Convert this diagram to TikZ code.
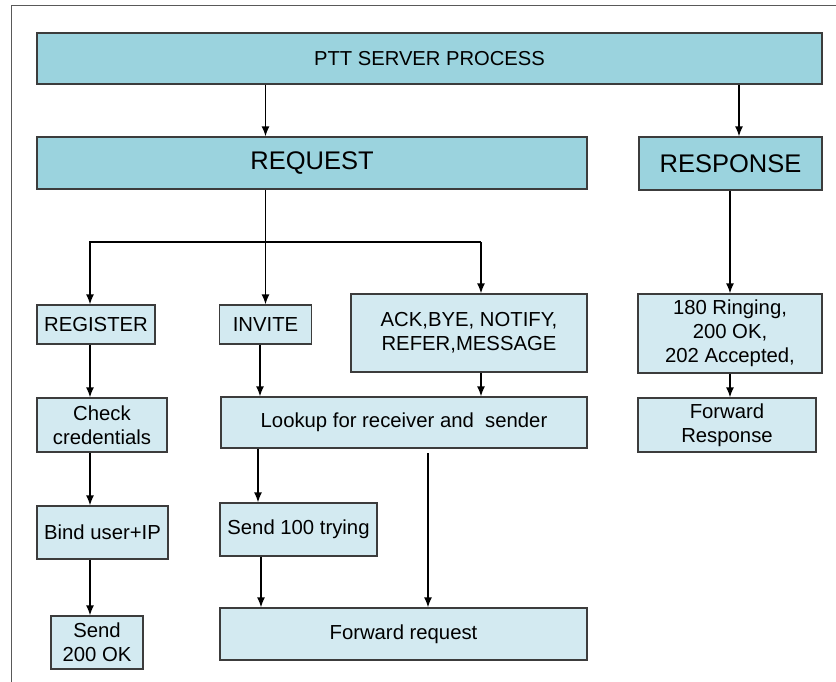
\documentclass[tikz,border=0pt]{standalone}
\usepackage{fontspec}
\setmainfont{Liberation Sans}
\usetikzlibrary{arrows.meta}
\definecolor{boxdark}{RGB}{155,211,222}
\definecolor{boxlight}{RGB}{211,234,241}
\definecolor{edge}{RGB}{60,60,60}
\tikzset{
  wh/.style 2 args={minimum width=#1,minimum height=#2},
  darkbox/.style={draw=edge,line width=1.3pt,fill=boxdark,inner sep=0pt,align=center},
  lightbox/.style={draw=edge,line width=1.3pt,fill=boxlight,inner sep=0pt,align=center,font=\fontsize{20.3}{23.8}\selectfont},
  arr/.style={line width=1.5pt,-{Latex[length=10pt,width=8pt]}}
}
\begin{document}
\begin{tikzpicture}[x=1pt,y=-1pt]
\useasboundingbox (0,0) rectangle (836,682);
\draw[color=black!65,line width=1pt] (836,6) -- (11,6) -- (11,682);
% top level
\node[darkbox,wh={785pt}{51pt},font=\fontsize{20.2}{24}\selectfont] (ptt) at (429.5,58.5) {PTT SERVER PROCESS};
\node[darkbox,wh={550pt}{52pt},font=\fontsize{25.5}{28}\selectfont] (request) at (312,163) {REQUEST};
\node[darkbox,wh={183pt}{53pt},font=\fontsize{25.5}{28}\selectfont] (response) at (730.5,163.5) {RESPONSE};
% request side
\node[lightbox,wh={118pt}{39pt}] (register) at (96,324.5) {REGISTER};
\node[lightbox,wh={92pt}{39pt}] (invite) at (265.5,324.5) {INVITE};
\node[lightbox,wh={236pt}{78pt}] (others) at (469,333) {ACK,BYE, NOTIFY,\\REFER,MESSAGE};
\node[lightbox,wh={130pt}{54pt}] (check) at (102,425) {Check\\credentials};
\node[lightbox,wh={366pt}{51pt}] (lookup) at (404,422.5) {Lookup for receiver and\ \ sender};
\node[lightbox,wh={131pt}{53pt}] (bind) at (102.5,532.5) {Bind user+IP};
\node[lightbox,wh={157pt}{53pt}] (trying) at (298.5,529.5) {Send 100 trying};
\node[lightbox,wh={92pt}{53pt}] (sendok) at (97,642.5) {Send\\200 OK};
\node[lightbox,wh={367pt}{52pt}] (fwdreq) at (403.5,634) {Forward request};
% response side
\node[lightbox,wh={184pt}{79pt}] (ringing) at (730,333.5) {180 Ringing,\\200 OK,\\202 Accepted,};
\node[lightbox,wh={178pt}{54pt}] (fwdresp) at (727,425) {Forward\\Response};
% helper coordinates
\coordinate (brL) at (90,242);
\coordinate (brR) at (481,242);
\coordinate (colR) at (739,0);
\coordinate (colI) at (260,0);
\coordinate (colT) at (258,0);
\coordinate (colF) at (261,0);
\coordinate (free) at (428,453);
% arrows
\draw[arr] (ptt.south -| invite.north) -- (request.north -| invite.north);
\draw[arr] (ptt.south -| colR) -- (response.north -| colR);
\draw[arr] (request.south -| invite.north) -- (invite.north);
\draw[arr] (brR) -- (brL) -- (brL |- register.north);
\draw[arr] (brR) -- (brR |- others.north);
\draw[arr] (register.south -| brL) -- (check.north -| brL);
\draw[arr] (check.south -| brL) -- (bind.north -| brL);
\draw[arr] (bind.south -| brL) -- (sendok.north -| brL);
\draw[arr] (invite.south -| colI) -- (lookup.north -| colI);
\draw[arr] (others.south -| brR) -- (lookup.north -| brR);
\draw[arr] (lookup.south -| colT) -- (trying.north -| colT);
\draw[arr] (trying.south -| colF) -- (fwdreq.north -| colF);
\draw[arr] (free) -- (free |- fwdreq.north);
\draw[arr] (response.south -| ringing.north) -- (ringing.north);
\draw[arr] (ringing.south) -- (ringing.south |- fwdresp.north);
\end{tikzpicture}
\end{document}
